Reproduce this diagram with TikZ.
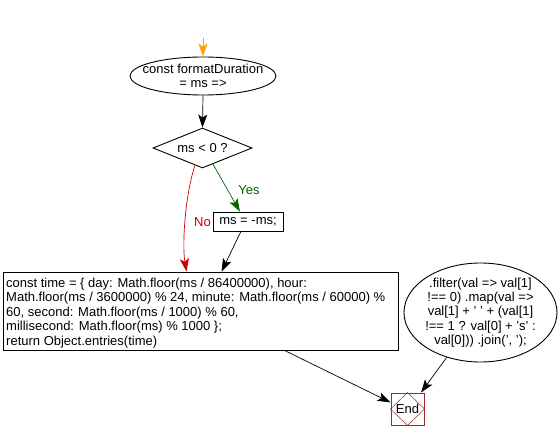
\documentclass[tikz,border=0pt]{standalone}
\usepackage{fontspec}
\setmainfont{Liberation Sans}
\usetikzlibrary{arrows.meta,shapes.geometric,calc}
\definecolor{arrorange}{RGB}{255,165,0}
\definecolor{yesgreen}{RGB}{0,100,0}
\definecolor{nored}{RGB}{204,0,0}
\definecolor{endred}{RGB}{160,40,40}
\tikzset{
  every node/.style={font=\fontsize{13pt}{14.4pt}\selectfont},
  shapeline/.style={draw=black,line width=0.9pt},
  txt/.style={inner sep=0pt,align=center},
  arr/.style={-{Stealth[length=13pt,width=9pt,inset=3pt]},line width=0.7pt},
}
\begin{document}
\begin{tikzpicture}[x=1pt,y=-1pt]
\useasboundingbox (0,0) rectangle (558,441);
% nodes
\coordinate (topin) at (203,38);
\node[shapeline,ellipse,minimum width=146pt,minimum height=38pt,inner sep=0pt] (start) at (203,76) {};
\node[txt] at (start.center) {const formatDuration\\= ms =>};
\node[shapeline,diamond,minimum width=99pt,minimum height=40pt,inner sep=0pt] (dec) at (202.5,148) {};
\node[txt] at (dec.center) {ms < 0 ?};
\node[shapeline,rectangle,minimum width=70pt,minimum height=19pt,inner sep=0pt] (ms) at (248,221.5) {};
\node[txt] at (ms.center) {ms = -ms;};
\node[shapeline,rectangle,minimum width=395pt,minimum height=78pt,inner sep=0pt] (main) at (200.5,311) {};
\node[txt,align=left,anchor=west] at (6,313) {const time = \{ day: Math.floor(ms / 86400000), hour:\\Math.floor(ms / 3600000) \% 24, minute: Math.floor(ms / 60000) \%\\60, second: Math.floor(ms / 1000) \% 60,\\millisecond: Math.floor(ms) \% 1000 \};\\return Object.entries(time)};
\node[shapeline,ellipse,minimum width=153pt,minimum height=99pt,inner sep=0pt] (filt) at (480.5,312.5) {};
\node[txt] at (filt.center) {.filter(val => val[1]\\!== 0) .map(val =>\\val[1] + ' ' + (val[1]\\!== 1 ? val[0] + 's' :\\val[0])) .join(', ');};
\node[draw=endred,line width=0.9pt,rectangle,minimum width=33pt,minimum height=32pt,inner sep=0pt] (end) at (407.5,409) {};
\draw[endred,line width=0.5pt] (end.north) -- (end.east) -- (end.south) -- (end.west) -- cycle;
\node[txt] at (end.center) {End};
% connectors
\draw[arr,arrorange] (topin) -- (start.north);
\draw[arr] (start.south) -- (dec.north);
\draw[arr,yesgreen] ($(dec.south)!0.21!(dec.east)$) -- ($(ms.north west)!0.386!(ms.north east)$);
\node[txt,text=yesgreen] (yes) at (249,190) {Yes};
\draw[arr,nored] ($(dec.south)!0.15!(dec.west)$) .. controls (185,195) and (182,245) .. ($(main.north west)+(184,0)$);
\node[txt,text=nored,anchor=east] (no) at (211,222) {No};
\draw[arr] ($(ms.south west)!0.4!(ms.south east)$) -- ($(main.north west)+(219,0)$);
\draw[arr] ($(main.south west)+(282,0)$) -- ($(end.north west)!0.3!(end.south west)$);
\draw[arr] (filt.233) -- ($(end.north west)!0.9!(end.north east)$);
\end{tikzpicture}
\end{document}
